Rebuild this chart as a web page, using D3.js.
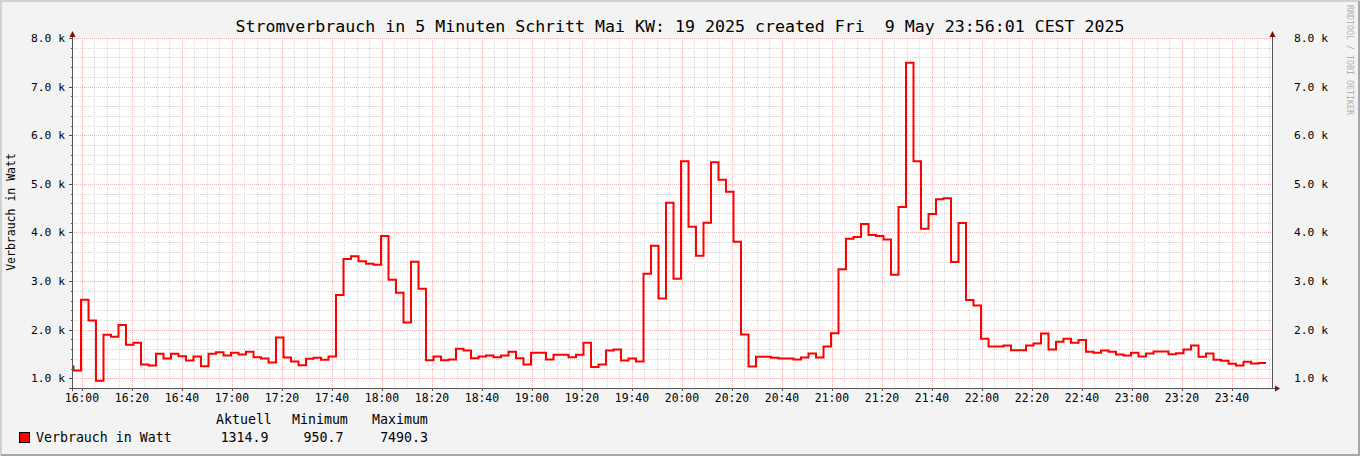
<!DOCTYPE html>
<html><head><meta charset="utf-8">
<script src="https://cdn.jsdelivr.net/npm/d3@7"></script>
<style>
html,body{margin:0;padding:0;background:#f3f3f3;}
svg{display:block;}
text{font-family:"DejaVu Sans Mono",monospace;fill:#000;}
</style></head>
<body>
<script>
// ---- data (3-minute samples, Watt) ----
const dataStart = new Date(2025, 4, 9, 15, 53, 37);
const stepSeconds = 180;
const values = [
 1240,1160,2618,2187,950.7,1893,1852,2098,1688,1729,1284,1263,1503,1407,1503,1455,1366,1448,1250,1503,1538,1469,1524,1489,1544,1435,1407,
 1325,1838,1427,1345,1270,1400,1421,1380,1448,
 2714,3453,3509,3406,3357,3337,3925,3029,2762,2146,3398,2844,
 1373,1448,1373,1386,1606,1571,
 1414,1448,1469,1435,1469,1544,1414,1284,1524,1524,1386,1482,1482,1435,1482,1729,1230,1284,1571,1592,1366,1407,1345,3152,3727,2639,
 4609,3049,5465,4117,3521,4199,5445,5082,4835,3809,1899,1242,1441,1441,1421,1407,1407,1386,1427,1509,1427,1653,1928,3242,3870,3905,
 4172,3946,3925,3857,3131,4521,7490.3,5465,4076,4377,4685,4706,3392,4192,2612,2495,1811,1653,1653,1674,1579,1579,1674,1714,1920,1592,
 1752,1811,1729,1790,1544,1524,1571,1544,1489,1469,1524,1448,1509,1551,1551,1496,1517,1592,1674,1441,1509,1380,1359,1298,1263,1339,1304,1314.9
];
const yTicks = [1000,2000,3000,4000,5000,6000,7000,8000];
const titleText = "Stromverbrauch in 5 Minuten Schritt Mai KW: 19 2025 created Fri  9 May 23:56:01 CEST 2025";
const yAxisTitle = "Verbrauch in Watt";
const seriesName = "Verbrauch in Watt";
const legendHeads = ["Aktuell", "Minimum", "Maximum"];
const watermark = "RRDTOOL / TOBI OETIKER";
const viewStart = new Date(2025, 4, 9, 15, 56, 1);
const viewEnd = new Date(2025, 4, 9, 23, 56, 1);

// ---- layout ----
const W = 1360, H = 456;
const L = 72, R = 1272, T = 38, B = 388;

const svg = d3.select("body").append("svg").attr("width", W).attr("height", H);

// frame
svg.append("rect").attr("x",0).attr("y",0).attr("width",W).attr("height",H).attr("fill","#f3f3f3");
svg.append("path").attr("d",`M1,${H} V1 H${W}`).attr("stroke","#d2d2d2").attr("stroke-width",2).attr("fill","none");
svg.append("path").attr("d",`M${W-1},1 V${H-1} H1`).attr("stroke","#a6a6a6").attr("stroke-width",2).attr("fill","none");

const x = d3.scaleTime().domain([viewStart, viewEnd]).range([L, R]);
const y = d3.scaleLinear().domain([800, 8000]).range([B, T]);

// plot background
svg.append("rect").attr("x",L).attr("y",T).attr("width",R-L).attr("height",B-T).attr("fill","#fff");

const crisp = v => Math.round(v) + 0.5;
const g = svg.append("g");

// minor grid
const minorX = d3.timeMinute.every(5).range(viewStart, viewEnd).filter(d => d.getMinutes() % 20 !== 0);
g.selectAll(".mx").data(minorX).join("line")
  .attr("x1", d => crisp(x(d))).attr("x2", d => crisp(x(d)))
  .attr("y1", T).attr("y2", B)
  .attr("stroke", "#d6d6d6").attr("stroke-dasharray", "1,1");
const minorY = d3.range(1000, 8000, 200).filter(v => v % 1000 !== 0);
g.selectAll(".my").data(minorY).join("line")
  .attr("x1", L).attr("x2", R)
  .attr("y1", d => crisp(y(d))).attr("y2", d => crisp(y(d)))
  .attr("stroke", "#d6d6d6").attr("stroke-dasharray", "1,1");

// major grid
const majorX = x.ticks(d3.timeMinute.every(20));
g.selectAll(".Mx").data(majorX).join("line")
  .attr("x1", d => crisp(x(d))).attr("x2", d => crisp(x(d)))
  .attr("y1", T).attr("y2", B)
  .attr("stroke", "#edb6b6").attr("stroke-dasharray", "1,1");
g.selectAll(".My").data(yTicks).join("line")
  .attr("x1", L).attr("x2", R)
  .attr("y1", d => crisp(y(d))).attr("y2", d => crisp(y(d)))
  .attr("stroke", "#edb6b6").attr("stroke-dasharray", "1,1");

// data line
const pts = values.map((v, i) => [new Date(dataStart.getTime() + i * stepSeconds * 1000), v]);
pts.push([new Date(dataStart.getTime() + values.length * stepSeconds * 1000), values[values.length - 1]]);
svg.append("clipPath").attr("id","clip").append("rect").attr("x",L).attr("y",T-2).attr("width",R-L).attr("height",B-T+2);
svg.append("path").datum(pts)
  .attr("clip-path","url(#clip)")
  .attr("fill","none").attr("stroke","#ff0000").attr("stroke-width",2)
  .attr("d", d3.line().x(d => x(d[0])).y(d => y(d[1])).curve(d3.curveStepAfter));

// axes
const axisCol = "#555", arrowCol = "#7a1010";
svg.append("line").attr("x1",L+0.5).attr("x2",L+0.5).attr("y1",T-4).attr("y2",B+3).attr("stroke",axisCol);
svg.append("line").attr("x1",R+0.5).attr("x2",R+0.5).attr("y1",T-4).attr("y2",B).attr("stroke",axisCol);
svg.append("line").attr("x1",L-3).attr("x2",R+4).attr("y1",B+0.5).attr("y2",B+0.5).attr("stroke",axisCol);
svg.append("path").attr("d",`M${L-2.5},${T-1} L${L+0.5},${T-7} L${L+3.5},${T-1} Z`).attr("fill",arrowCol);
svg.append("path").attr("d",`M${R-2.5},${T-1} L${R+0.5},${T-7} L${R+3.5},${T-1} Z`).attr("fill",arrowCol);
svg.append("path").attr("d",`M${R+3},${B-2.5} L${R+8},${B+0.5} L${R+3},${B+3.5} Z`).attr("fill",arrowCol);

// ticks
svg.selectAll(".ty").data(yTicks).join("line")
  .attr("x1", L-3).attr("x2", L).attr("y1", d => crisp(y(d))).attr("y2", d => crisp(y(d))).attr("stroke", axisCol);
svg.selectAll(".tym").data(minorY).join("line")
  .attr("x1", L-1).attr("x2", L).attr("y1", d => crisp(y(d))).attr("y2", d => crisp(y(d))).attr("stroke", axisCol);
svg.selectAll(".tx").data(majorX).join("line")
  .attr("x1", d => crisp(x(d))).attr("x2", d => crisp(x(d))).attr("y1", B).attr("y2", B+3).attr("stroke", axisCol);

// tick labels
const fmtY = v => (v / 1000).toFixed(1) + " k";
svg.selectAll(".ly").data(yTicks).join("text")
  .attr("x", 65).attr("y", d => y(d) + 4).attr("text-anchor","end")
  .attr("font-size", "11.3px").text(fmtY);
svg.selectAll(".lyr").data(yTicks).join("text")
  .attr("x", 1294).attr("y", d => y(d) + 4).attr("text-anchor","start")
  .attr("font-size", "11.3px").text(fmtY);
const fmtX = d3.timeFormat("%H:%M");
svg.selectAll(".lx").data(majorX).join("text")
  .attr("x", d => x(d)).attr("y", 402).attr("text-anchor","middle")
  .attr("font-size", "11.4px").text(fmtX);

// title
svg.append("text").attr("x", 680).attr("y", 32).attr("text-anchor","middle")
  .attr("font-size","16.6px").style("white-space","pre").text(titleText);

// y axis title
svg.append("text").attr("transform","translate(15,212) rotate(-90)").attr("text-anchor","middle")
  .attr("font-size","11.5px").text(yAxisTitle);

// watermark
svg.append("text").attr("transform","translate(1347,5) rotate(90)").attr("text-anchor","start")
  .attr("font-size","8.3px").style("fill","#b0b0b0").text(watermark);

// legend
const stats = [values[values.length - 1], d3.min(values), d3.max(values)];
const headX = [216, 292, 372];
const valEnd = [268.5, 343.5, 428];
svg.selectAll(".lh").data(legendHeads).join("text")
  .attr("x", (d, i) => headX[i]).attr("y", 424).attr("font-size","13.25px").text(d => d);
svg.selectAll(".lv").data(stats).join("text")
  .attr("x", (d, i) => valEnd[i]).attr("y", 442).attr("text-anchor","end")
  .attr("font-size","13.25px").text(d => d.toFixed(1));
svg.append("rect").attr("x",19.5).attr("y",432.5).attr("width",10).attr("height",10)
  .attr("fill","#ff0000").attr("stroke","#000").attr("stroke-width",1);
svg.append("text").attr("x", 36).attr("y", 442).attr("font-size","13.25px").text(seriesName);
</script>
</body></html>
